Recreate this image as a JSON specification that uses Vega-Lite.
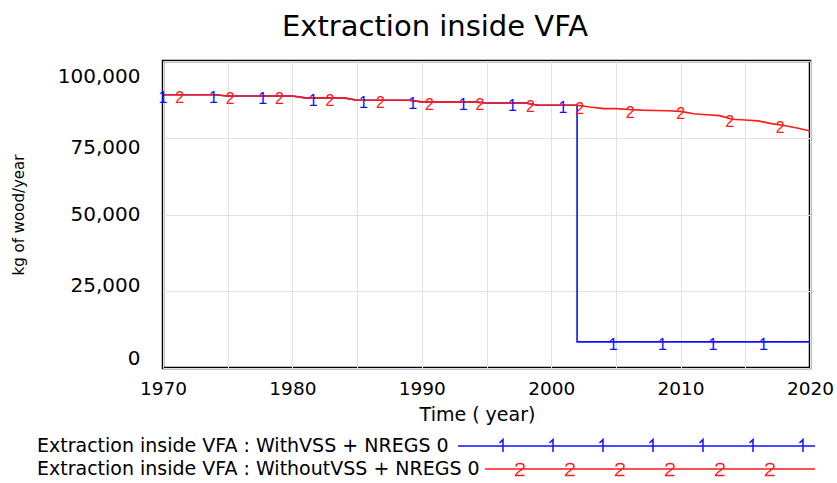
{
  "$schema": "https://vega.github.io/schema/vega-lite/v6.json",
  "width": 647,
  "height": 307,
  "autosize": "none",
  "padding": {"left": 163, "top": 61, "right": 27, "bottom": 115},
  "background": "white",
  "title": {"text": "Extraction inside VFA", "font": "DejaVu Sans", "fontSize": 29, "fontWeight": "normal", "color": "black", "anchor": "middle", "dx": -51.5, "baseline": "alphabetic", "offset": -4},
  "config": {"view": {"stroke": "black", "strokeWidth": 2.5}, "font": "DejaVu Sans"},
  "datasets": {
    "lines": [
      {"series": "Extraction inside VFA : WithVSS + NREGS 0", "year": 1970, "value": 89000},
      {"series": "Extraction inside VFA : WithVSS + NREGS 0", "year": 1971, "value": 89000},
      {"series": "Extraction inside VFA : WithVSS + NREGS 0", "year": 1972, "value": 89000},
      {"series": "Extraction inside VFA : WithVSS + NREGS 0", "year": 1973, "value": 89000},
      {"series": "Extraction inside VFA : WithVSS + NREGS 0", "year": 1974, "value": 89000},
      {"series": "Extraction inside VFA : WithVSS + NREGS 0", "year": 1975, "value": 88600},
      {"series": "Extraction inside VFA : WithVSS + NREGS 0", "year": 1976, "value": 88600},
      {"series": "Extraction inside VFA : WithVSS + NREGS 0", "year": 1977, "value": 88600},
      {"series": "Extraction inside VFA : WithVSS + NREGS 0", "year": 1978, "value": 88600},
      {"series": "Extraction inside VFA : WithVSS + NREGS 0", "year": 1979, "value": 88600},
      {"series": "Extraction inside VFA : WithVSS + NREGS 0", "year": 1980, "value": 88600},
      {"series": "Extraction inside VFA : WithVSS + NREGS 0", "year": 1981, "value": 88000},
      {"series": "Extraction inside VFA : WithVSS + NREGS 0", "year": 1982, "value": 88000},
      {"series": "Extraction inside VFA : WithVSS + NREGS 0", "year": 1983, "value": 88000},
      {"series": "Extraction inside VFA : WithVSS + NREGS 0", "year": 1984, "value": 88000},
      {"series": "Extraction inside VFA : WithVSS + NREGS 0", "year": 1985, "value": 87200},
      {"series": "Extraction inside VFA : WithVSS + NREGS 0", "year": 1986, "value": 87200},
      {"series": "Extraction inside VFA : WithVSS + NREGS 0", "year": 1987, "value": 87200},
      {"series": "Extraction inside VFA : WithVSS + NREGS 0", "year": 1988, "value": 87200},
      {"series": "Extraction inside VFA : WithVSS + NREGS 0", "year": 1989, "value": 87200},
      {"series": "Extraction inside VFA : WithVSS + NREGS 0", "year": 1990, "value": 86700},
      {"series": "Extraction inside VFA : WithVSS + NREGS 0", "year": 1991, "value": 86700},
      {"series": "Extraction inside VFA : WithVSS + NREGS 0", "year": 1992, "value": 86700},
      {"series": "Extraction inside VFA : WithVSS + NREGS 0", "year": 1993, "value": 86700},
      {"series": "Extraction inside VFA : WithVSS + NREGS 0", "year": 1994, "value": 86700},
      {"series": "Extraction inside VFA : WithVSS + NREGS 0", "year": 1995, "value": 86300},
      {"series": "Extraction inside VFA : WithVSS + NREGS 0", "year": 1996, "value": 86300},
      {"series": "Extraction inside VFA : WithVSS + NREGS 0", "year": 1997, "value": 86300},
      {"series": "Extraction inside VFA : WithVSS + NREGS 0", "year": 1998, "value": 86300},
      {"series": "Extraction inside VFA : WithVSS + NREGS 0", "year": 1999, "value": 85600},
      {"series": "Extraction inside VFA : WithVSS + NREGS 0", "year": 2000, "value": 85600},
      {"series": "Extraction inside VFA : WithVSS + NREGS 0", "year": 2001, "value": 85600},
      {"series": "Extraction inside VFA : WithVSS + NREGS 0", "year": 2002, "value": 85600},
      {"series": "Extraction inside VFA : WithVSS + NREGS 0", "year": 2002, "value": 8500},
      {"series": "Extraction inside VFA : WithVSS + NREGS 0", "year": 2020, "value": 8500},
      {"series": "Extraction inside VFA : WithoutVSS + NREGS 0", "year": 1970, "value": 89000},
      {"series": "Extraction inside VFA : WithoutVSS + NREGS 0", "year": 1971, "value": 89000},
      {"series": "Extraction inside VFA : WithoutVSS + NREGS 0", "year": 1972, "value": 89000},
      {"series": "Extraction inside VFA : WithoutVSS + NREGS 0", "year": 1973, "value": 89000},
      {"series": "Extraction inside VFA : WithoutVSS + NREGS 0", "year": 1974, "value": 89000},
      {"series": "Extraction inside VFA : WithoutVSS + NREGS 0", "year": 1975, "value": 88600},
      {"series": "Extraction inside VFA : WithoutVSS + NREGS 0", "year": 1976, "value": 88600},
      {"series": "Extraction inside VFA : WithoutVSS + NREGS 0", "year": 1977, "value": 88600},
      {"series": "Extraction inside VFA : WithoutVSS + NREGS 0", "year": 1978, "value": 88600},
      {"series": "Extraction inside VFA : WithoutVSS + NREGS 0", "year": 1979, "value": 88600},
      {"series": "Extraction inside VFA : WithoutVSS + NREGS 0", "year": 1980, "value": 88600},
      {"series": "Extraction inside VFA : WithoutVSS + NREGS 0", "year": 1981, "value": 88000},
      {"series": "Extraction inside VFA : WithoutVSS + NREGS 0", "year": 1982, "value": 88000},
      {"series": "Extraction inside VFA : WithoutVSS + NREGS 0", "year": 1983, "value": 88000},
      {"series": "Extraction inside VFA : WithoutVSS + NREGS 0", "year": 1984, "value": 88000},
      {"series": "Extraction inside VFA : WithoutVSS + NREGS 0", "year": 1985, "value": 87200},
      {"series": "Extraction inside VFA : WithoutVSS + NREGS 0", "year": 1986, "value": 87200},
      {"series": "Extraction inside VFA : WithoutVSS + NREGS 0", "year": 1987, "value": 87200},
      {"series": "Extraction inside VFA : WithoutVSS + NREGS 0", "year": 1988, "value": 87200},
      {"series": "Extraction inside VFA : WithoutVSS + NREGS 0", "year": 1989, "value": 87200},
      {"series": "Extraction inside VFA : WithoutVSS + NREGS 0", "year": 1990, "value": 86700},
      {"series": "Extraction inside VFA : WithoutVSS + NREGS 0", "year": 1991, "value": 86700},
      {"series": "Extraction inside VFA : WithoutVSS + NREGS 0", "year": 1992, "value": 86700},
      {"series": "Extraction inside VFA : WithoutVSS + NREGS 0", "year": 1993, "value": 86700},
      {"series": "Extraction inside VFA : WithoutVSS + NREGS 0", "year": 1994, "value": 86700},
      {"series": "Extraction inside VFA : WithoutVSS + NREGS 0", "year": 1995, "value": 86300},
      {"series": "Extraction inside VFA : WithoutVSS + NREGS 0", "year": 1996, "value": 86300},
      {"series": "Extraction inside VFA : WithoutVSS + NREGS 0", "year": 1997, "value": 86300},
      {"series": "Extraction inside VFA : WithoutVSS + NREGS 0", "year": 1998, "value": 86300},
      {"series": "Extraction inside VFA : WithoutVSS + NREGS 0", "year": 1999, "value": 85600},
      {"series": "Extraction inside VFA : WithoutVSS + NREGS 0", "year": 2000, "value": 85600},
      {"series": "Extraction inside VFA : WithoutVSS + NREGS 0", "year": 2001, "value": 85600},
      {"series": "Extraction inside VFA : WithoutVSS + NREGS 0", "year": 2002, "value": 85600},
      {"series": "Extraction inside VFA : WithoutVSS + NREGS 0", "year": 2003, "value": 85000},
      {"series": "Extraction inside VFA : WithoutVSS + NREGS 0", "year": 2004, "value": 84500},
      {"series": "Extraction inside VFA : WithoutVSS + NREGS 0", "year": 2005, "value": 84500},
      {"series": "Extraction inside VFA : WithoutVSS + NREGS 0", "year": 2006, "value": 84200},
      {"series": "Extraction inside VFA : WithoutVSS + NREGS 0", "year": 2007, "value": 84000},
      {"series": "Extraction inside VFA : WithoutVSS + NREGS 0", "year": 2008, "value": 83900},
      {"series": "Extraction inside VFA : WithoutVSS + NREGS 0", "year": 2009, "value": 83800},
      {"series": "Extraction inside VFA : WithoutVSS + NREGS 0", "year": 2010, "value": 83600},
      {"series": "Extraction inside VFA : WithoutVSS + NREGS 0", "year": 2011, "value": 82800},
      {"series": "Extraction inside VFA : WithoutVSS + NREGS 0", "year": 2012, "value": 82500},
      {"series": "Extraction inside VFA : WithoutVSS + NREGS 0", "year": 2013, "value": 82200},
      {"series": "Extraction inside VFA : WithoutVSS + NREGS 0", "year": 2014, "value": 81000},
      {"series": "Extraction inside VFA : WithoutVSS + NREGS 0", "year": 2015, "value": 80800},
      {"series": "Extraction inside VFA : WithoutVSS + NREGS 0", "year": 2016, "value": 80500},
      {"series": "Extraction inside VFA : WithoutVSS + NREGS 0", "year": 2017, "value": 79600},
      {"series": "Extraction inside VFA : WithoutVSS + NREGS 0", "year": 2018, "value": 79000},
      {"series": "Extraction inside VFA : WithoutVSS + NREGS 0", "year": 2019, "value": 78200},
      {"series": "Extraction inside VFA : WithoutVSS + NREGS 0", "year": 2020, "value": 77200}
    ],
    "markers1": [
      {"year": 1970.0, "value": 89000},
      {"year": 1973.9, "value": 89000},
      {"year": 1977.7, "value": 88600},
      {"year": 1981.6, "value": 88000},
      {"year": 1985.5, "value": 87200},
      {"year": 1989.3, "value": 87050},
      {"year": 1993.2, "value": 86700},
      {"year": 1997.0, "value": 86300},
      {"year": 2000.9, "value": 85600},
      {"year": 2004.8, "value": 8500},
      {"year": 2008.6, "value": 8500},
      {"year": 2012.5, "value": 8500},
      {"year": 2016.4, "value": 8500}
    ],
    "markers2": [
      {"year": 1971.3, "value": 89000},
      {"year": 1975.2, "value": 88600},
      {"year": 1979.0, "value": 88600},
      {"year": 1982.9, "value": 88000},
      {"year": 1986.8, "value": 87200},
      {"year": 1990.6, "value": 86700},
      {"year": 1994.5, "value": 86500},
      {"year": 1998.4, "value": 86020},
      {"year": 2002.2, "value": 85480},
      {"year": 2006.1, "value": 84180},
      {"year": 2010.0, "value": 83600},
      {"year": 2013.8, "value": 81240},
      {"year": 2017.7, "value": 79180}
    ]
  },
  "encoding": {
    "x": {
      "field": "year", "type": "quantitative",
      "scale": {"domain": [1970, 2020], "nice": false, "zero": false},
      "axis": {
        "values": [1970, 1975, 1980, 1985, 1990, 1995, 2000, 2005, 2010, 2015, 2020],
        "format": "d",
        "labelExpr": "datum.value % 10 == 0 ? datum.label : ''",
        "grid": true, "gridColor": "#e2e2e2", "gridWidth": 1,
        "ticks": false, "tickSize": 0, "domain": false,
        "labelFont": "DejaVu Sans", "labelFontSize": 18.5, "labelColor": "black",
        "labelPadding": 11, "labelFlush": false, "labelOverlap": false,
        "title": "Time  ( year)", "titleFont": "DejaVu Sans", "titleFontSize": 19,
        "titleFontWeight": "normal", "titleColor": "black", "titlePadding": 8, "titleX": 314
      }
    },
    "y": {
      "field": "value", "type": "quantitative",
      "scale": {"domain": [0, 100000], "nice": false, "zero": true},
      "axis": {
        "values": [0, 25000, 50000, 75000, 100000],
        "format": ",d",
        "grid": true, "gridColor": "#e2e2e2", "gridWidth": 1,
        "ticks": false, "tickSize": 0, "domain": false,
        "labelFont": "DejaVu Sans", "labelFontSize": 20, "labelColor": "black",
        "labelPadding": 23, "labelFlush": false, "labelOverlap": false,
        "labelLineHeight": 31,
        "labelBaseline": {
          "condition": [
            {"test": "datum.value == 100000", "value": "line-top"},
            {"test": "datum.value == 75000", "value": "top"},
            {"test": "datum.value == 25000", "value": "alphabetic"},
            {"test": "datum.value == 0", "value": "bottom"}
          ],
          "value": "middle"
        },
        "title": "kg of wood/year", "titleFont": "DejaVu Sans", "titleFontSize": 15,
        "titleFontWeight": "normal", "titleColor": "black", "titlePadding": 31
      }
    }
  },
  "layer": [
    {
      "data": {"name": "lines"},
      "mark": {"type": "point", "filled": false, "opacity": 0, "strokeWidth": 1.5},
      "encoding": {
        "color": {
          "field": "series", "type": "nominal",
          "scale": {"domain": ["Extraction inside VFA : WithVSS + NREGS 0", "Extraction inside VFA : WithoutVSS + NREGS 0"], "range": ["#1010ff", "#ff1a1a"]},
          "legend": {"orient": "none", "legendX": 464, "legendY": 375.5, "direction": "vertical", "title": null, "labelFont": "DejaVu Sans", "labelFontSize": 19, "labelColor": "black", "labelAlign": "left", "labelOffset": -609, "labelLimit": 1000, "symbolSize": 4, "symbolStrokeWidth": 1.5, "symbolFillColor": "transparent", "symbolOpacity": 1, "rowPadding": 3, "padding": 0}
        },
        "shape": {
          "field": "series", "type": "nominal",
          "scale": {"domain": ["Extraction inside VFA : WithVSS + NREGS 0", "Extraction inside VFA : WithoutVSS + NREGS 0"], "range": [
            "M-178.5,0L178.5,0M-137,-3L-133.5,-6.5L-133.5,6M-87,-3L-83.5,-6.5L-83.5,6M-37,-3L-33.5,-6.5L-33.5,6M13,-3L16.5,-6.5L16.5,6M63,-3L66.5,-6.5L66.5,6M113,-3L116.5,-6.5L116.5,6M163,-3L166.5,-6.5L166.5,6",
            "M-151.5,0L178.5,0M-120.5,-2.5C-120.5,-6.5 -112.5,-6.5 -112.5,-2.5C-112.5,0.5 -120.5,3 -121,6.5L-112,6.5M-70.5,-2.5C-70.5,-6.5 -62.5,-6.5 -62.5,-2.5C-62.5,0.5 -70.5,3 -71,6.5L-62,6.5M-20.5,-2.5C-20.5,-6.5 -12.5,-6.5 -12.5,-2.5C-12.5,0.5 -20.5,3 -21,6.5L-12,6.5M29.5,-2.5C29.5,-6.5 37.5,-6.5 37.5,-2.5C37.5,0.5 29.5,3 29,6.5L38,6.5M79.5,-2.5C79.5,-6.5 87.5,-6.5 87.5,-2.5C87.5,0.5 79.5,3 79,6.5L88,6.5M129.5,-2.5C129.5,-6.5 137.5,-6.5 137.5,-2.5C137.5,0.5 129.5,3 129,6.5L138,6.5"
          ]},
          "legend": {"orient": "none", "legendX": 464, "legendY": 375.5, "direction": "vertical", "title": null, "labelFont": "DejaVu Sans", "labelFontSize": 19, "labelColor": "black", "labelAlign": "left", "labelOffset": -609, "labelLimit": 1000, "symbolSize": 4, "symbolStrokeWidth": 1.5, "symbolFillColor": "transparent", "symbolOpacity": 1, "rowPadding": 3, "padding": 0}
        }
      }
    },
    {
      "data": {"name": "lines"},
      "mark": {"type": "line", "strokeWidth": 1.6},
      "encoding": {
        "color": {
          "field": "series", "type": "nominal",
          "scale": {"domain": ["Extraction inside VFA : WithVSS + NREGS 0", "Extraction inside VFA : WithoutVSS + NREGS 0"], "range": ["#1010ff", "#ff1a1a"]},
          "legend": null
        },
        "order": [{"field": "year", "type": "quantitative"}, {"field": "value", "type": "quantitative", "sort": "descending"}]
      }
    },
    {
      "data": {"name": "markers2"},
      "mark": {"type": "text", "text": "2", "color": "#ff1a1a", "font": "Liberation Sans", "fontSize": 16, "baseline": "middle", "align": "center", "dy": 3}
    },
    {
      "data": {"name": "markers1"},
      "mark": {"type": "text", "text": "1", "color": "#1010ff", "font": "Liberation Sans", "fontSize": 16, "baseline": "middle", "align": "center", "dy": 3}
    }
  ]
}
